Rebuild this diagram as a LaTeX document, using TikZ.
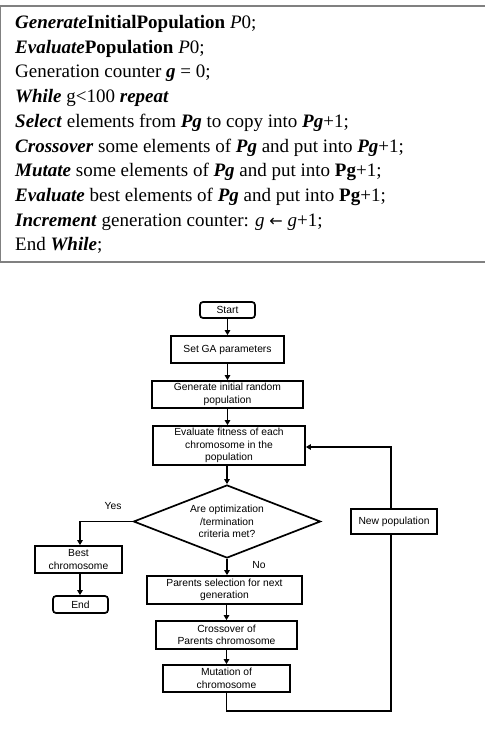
\documentclass[tikz,border=0pt]{standalone}
\usepackage{fontspec}
\setmainfont{Liberation Serif}
\newfontfamily\arialf{Liberation Sans}
\newfontfamily\dejavuf{DejaVu Sans}
\usetikzlibrary{shapes.geometric,arrows.meta}
\definecolor{rulegray}{RGB}{128,128,128}
\begin{document}
\begin{tikzpicture}[x=1pt,y=-1pt,
  codeline/.style={anchor=base west,inner sep=0pt,font=\fontsize{19}{23}\selectfont},
  fbox/.style={draw,line width=1.7pt,inner sep=0pt,align=center,font=\arialf\fontsize{10.3}{12.5}\selectfont},
  rbox/.style={fbox,rounded corners=3pt},
  dbox/.style={fbox,diamond,aspect=2.56},
  lbl/.style={inner sep=0pt,font=\arialf\fontsize{10.3}{12.5}\selectfont},
  conn/.style={line width=1.7pt},
  arr/.style={conn,-{Triangle[length=5pt,width=5.5pt]}}]
\useasboundingbox (0,0) rectangle (485,731);
% table rules
\draw[rulegray,line width=2pt] (0,6) -- (485,6);
\draw[rulegray,line width=2pt] (0,262) -- (485,262);
\draw[rulegray,line width=0.8pt] (0.4,6) -- (0.4,262);
% pseudo code
\node[codeline] (l1) at (15,28.5) {\textbf{\textit{Generate}}\textbf{InitialPopulation} \textit{P}0;};
\node[codeline] (l2) at (15,53.2) {\textbf{\textit{Evaluate}}\textbf{Population} \textit{P}0;};
\node[codeline] (l3) at (15,77.9) {Generation counter \textbf{\textit{g}} = 0;};
\node[codeline] (l4) at (15,102.6) {\textbf{\textit{While}} g<100 \textbf{\textit{repeat}}};
\node[codeline] (l5) at (15,127.3) {\textbf{\textit{Select}} elements from \textbf{\textit{Pg}} to copy into \textbf{\textit{Pg}}+1;};
\node[codeline] (l6) at (15,152) {\textbf{\textit{Crossover}} some elements of \textbf{\textit{Pg}} and put into \textbf{\textit{Pg}}+1;};
\node[codeline] (l7) at (15,176.7) {\textbf{\textit{Mutate}} some elements of \textbf{\textit{Pg}} and put into \textbf{Pg}+1;};
\node[codeline] (l8) at (15,201.4) {\textbf{\textit{Evaluate}} best elements of \textbf{\textit{Pg}} and put into \textbf{Pg}+1;};
\node[codeline] (l9) at (15,226.1) {\textbf{\textit{Increment}} generation counter: \textit{g} {\dejavuf\fontsize{16}{18}\selectfont ←} \textit{g}+1;};
\node[codeline] (l10) at (15,250.8) {End \textbf{\textit{While}};};
% flowchart
\node[rbox,minimum width=55,minimum height=16] (start) at (227.5,310) {Start};
\node[fbox,minimum width=113,minimum height=27] (setga) at (227.5,349.5) {Set GA parameters};
\node[fbox,minimum width=151,minimum height=27] (gen) at (227.5,394.5) {Generate initial random\\population};
\node[fbox,minimum width=152,minimum height=39] (eval) at (229,445.5) {Evaluate fitness of each\\chromosome in the\\population};
\node[dbox,minimum width=187,minimum height=73] (dia) at (227,521.5) {Are optimization\\/termination\\criteria met?};
\node[fbox,minimum width=86,minimum height=25] (newpop) at (394,521.5) {New population};
\node[fbox,minimum width=87,minimum height=27] (best) at (78.5,559.5) {Best\\chromosome};
\node[rbox,minimum width=55,minimum height=17] (end) at (80.5,604.5) {End};
\node[fbox,minimum width=155,minimum height=28] (par) at (224.5,590) {Parents selection for next\\generation};
\node[fbox,minimum width=141,minimum height=28] (cro) at (226.5,635) {Crossover of\\Parents chromosome};
\node[fbox,minimum width=127,minimum height=27] (mut) at (226.5,678.5) {Mutation of\\chromosome};
\node[lbl] (yes) at (113,506) {Yes};
\node[lbl] (no) at (259,565) {No};
\coordinate (yc) at (80,521.5);
\coordinate (rc) at (391,711);
\coordinate (tc) at (391,447);
% connectors
\draw[arr] (start.south -| setga.north) -- (setga.north);
\draw[arr] (setga.south) -- (setga.south |- gen.north);
\draw[arr] (gen.south) -- (gen.south |- eval.north);
\draw[arr] (eval.south -| dia.north) -- (dia.north);
\draw[arr] (dia.south) -- (dia.south |- par.north);
\draw[arr] (cro.north |- par.south) -- (cro.north);
\draw[arr] (cro.south) -- (cro.south |- mut.north);
\draw[arr] (dia.west) -- (yc) -- (yc |- best.north);
\draw[arr] (yc |- best.south) -- (yc |- end.north);
\draw[conn] (mut.south) |- (rc) -- (rc |- newpop.south);
\draw[arr] (tc |- newpop.north) -- (tc) -- (tc -| eval.east);
\end{tikzpicture}
\end{document}
